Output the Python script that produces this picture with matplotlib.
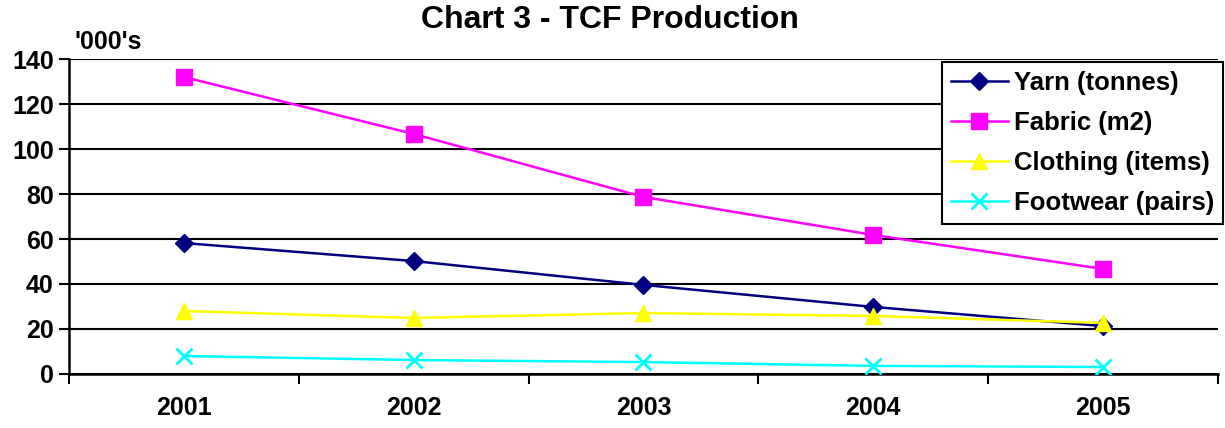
import numpy as np
import matplotlib.pyplot as plt

plt.rcParams['font.family'] = ['Liberation Sans', 'DejaVu Sans']
plt.rcParams['font.weight'] = 'bold'

years = ['2001', '2002', '2003', '2004', '2005']
yarn = [58.2, 50.2, 39.6, 29.8, 21.3]
fabric = [132, 106.7, 78.7, 61.8, 46.7]
clothing = [28, 24.9, 27.1, 25.8, 22.7]
footwear = [8, 6.2, 5.3, 3.6, 3.1]

fig = plt.figure(figsize=(12.25, 4.28), dpi=100)
ax = fig.add_axes([0.0563, 0.1262, 0.9380, 0.7359])

x = np.arange(len(years))
ax.plot(x, yarn, color='#000080', marker='D', markersize=9, lw=1.8, label='Yarn (tonnes)', zorder=3)
ax.plot(x, fabric, color='#FF00FF', marker='s', markersize=11, lw=1.8, label='Fabric (m2)', zorder=3)
ax.plot(x, clothing, color='#FFFF00', marker='^', markersize=12, lw=1.8, label='Clothing (items)', zorder=3)
ax.plot(x, footwear, color='#00FFFF', marker='x', markersize=11, mew=2, lw=1.8, label='Footwear (pairs)', zorder=3)

ax.set_xlim(-0.5, 4.5)
ax.set_ylim(0, 140)
ax.set_yticks(range(0, 141, 20))
ax.yaxis.grid(True, color='black', lw=1.5)
ax.set_axisbelow(True)

ax.set_xticks(x)
ax.set_xticklabels(years)
ax.set_xticks(np.arange(-0.5, 5, 1), minor=True)
ax.tick_params(axis='x', which='major', length=0, pad=16, labelsize=18)
ax.tick_params(axis='x', which='minor', length=7, width=1.5, direction='out')
ax.tick_params(axis='y', length=7, width=1.5, labelsize=18, pad=4)

for s in ['top', 'right']:
    ax.spines[s].set_visible(False)
for s in ['left', 'bottom']:
    ax.spines[s].set_linewidth(1.8)

fig.text(0.498, 0.953, 'Chart 3 - TCF Production', ha='center', va='center', fontsize=23, fontweight='bold')
fig.text(0.061, 0.902, "'000's", ha='left', va='center', fontsize=18, fontweight='bold')

leg = fig.legend(loc='upper left', bbox_to_anchor=(0.769, 0.855), bbox_transform=fig.transFigure,
                 fontsize=18.5, frameon=True, fancybox=False, framealpha=1, edgecolor='black',
                 borderpad=0.35, labelspacing=0.62, handlelength=2.2, handletextpad=0.25,
                 borderaxespad=0)
leg.get_frame().set_linewidth(1.5)

fig.savefig('out.png', dpi=100)
